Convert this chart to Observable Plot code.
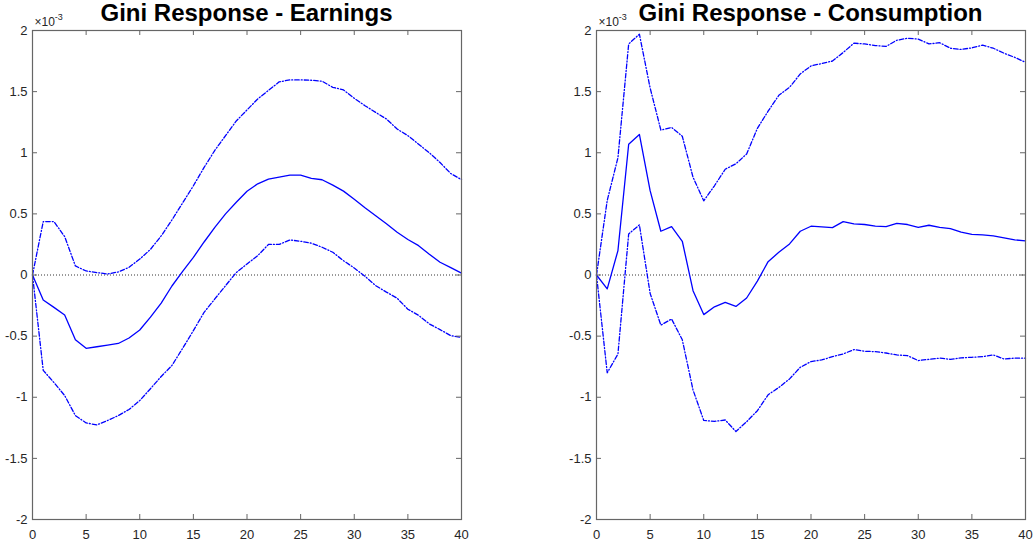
<!DOCTYPE html>
<html>
<head>
<meta charset="utf-8">
<script src="https://cdn.jsdelivr.net/npm/d3@7"></script>
<script src="https://cdn.jsdelivr.net/npm/@observablehq/plot@0.6"></script>
<style>
  body { margin: 0; background: #fff; font-family: "Liberation Sans", Arial, Helvetica, sans-serif; }
  #fig { position: relative; width: 1033px; height: 543px; overflow: hidden; }
  .panel { position: absolute; top: 0; height: 543px; }
  .title { position: absolute; top: 1px; font-weight: bold; font-size: 24px; line-height: 24px; color: #000; white-space: nowrap; transform: translateX(-50%); }
  .expo { position: absolute; top: 15.5px; font-size: 12px; line-height: 12px; color: #262626; white-space: nowrap; }
  .expo span { font-size: 9px; position: relative; top: -5.5px; }
  .chart { position: absolute; top: 0; left: 0; }
  .chart svg text { font-size: 13px !important; font-family: "Liberation Sans", Arial, Helvetica, sans-serif !important; }
</style>
</head>
<body>
<div id="fig"></div>
<script>
// Impulse horizons (quarters after the shock)
const horizons = [0, 1, 2, 3, 4, 5, 6, 7, 8, 9, 10, 11, 12, 13, 14, 15, 16, 17, 18, 19, 20,
  21, 22, 23, 24, 25, 26, 27, 28, 29, 30, 31, 32, 33, 34, 35, 36, 37, 38, 39, 40];

// Gini response of earnings (x 1e-3): point estimate and error bands
const earningsMid = [0, -0.204, -0.265, -0.327, -0.53, -0.60, -0.587, -0.574, -0.56, -0.515, -0.45,
  -0.345, -0.23, -0.09, 0.03, 0.144, 0.27, 0.39, 0.50, 0.595, 0.685,
  0.746, 0.784, 0.80, 0.817, 0.817, 0.79, 0.779, 0.735, 0.686, 0.62,
  0.55, 0.485, 0.42, 0.35, 0.29, 0.24, 0.17, 0.104, 0.06, 0.016];
const earningsUpper = [0, 0.437, 0.437, 0.314, 0.074, 0.033, 0.02, 0.008, 0.025, 0.063, 0.13,
  0.21, 0.32, 0.45, 0.59, 0.73, 0.88, 1.02, 1.14, 1.26, 1.35,
  1.44, 1.51, 1.58, 1.596, 1.596, 1.593, 1.585, 1.535, 1.514, 1.445,
  1.385, 1.33, 1.276, 1.194, 1.14, 1.07, 1.0, 0.92, 0.83, 0.78];
const earningsLower = [0, -0.78, -0.88, -0.986, -1.15, -1.21, -1.226, -1.19, -1.15, -1.10, -1.027,
  -0.93, -0.83, -0.74, -0.6, -0.455, -0.305, -0.196, -0.087, 0.02, 0.09,
  0.158, 0.25, 0.25, 0.287, 0.276, 0.26, 0.227, 0.186, 0.117, 0.057,
  -0.01, -0.087, -0.14, -0.19, -0.28, -0.33, -0.40, -0.447, -0.496, -0.51];

// Gini response of consumption (x 1e-3): point estimate and error bands
const consumptionMid = [0, -0.114, 0.2, 1.07, 1.15, 0.69, 0.358, 0.396, 0.276, -0.128, -0.324,
  -0.26, -0.224, -0.257, -0.188, -0.05, 0.109, 0.186, 0.254, 0.358, 0.399,
  0.393, 0.388, 0.437, 0.418, 0.413, 0.40, 0.396, 0.423, 0.413, 0.39,
  0.407, 0.39, 0.38, 0.35, 0.333, 0.328, 0.32, 0.303, 0.287, 0.279];
const consumptionUpper = [0, 0.61, 0.96, 1.89, 1.97, 1.53, 1.186, 1.207, 1.135, 0.80, 0.607,
  0.73, 0.865, 0.91, 0.99, 1.2, 1.34, 1.47, 1.535, 1.645, 1.71,
  1.73, 1.75, 1.82, 1.896, 1.89, 1.877, 1.87, 1.92, 1.937, 1.93,
  1.89, 1.90, 1.855, 1.845, 1.858, 1.88, 1.855, 1.814, 1.78, 1.74];
const consumptionLower = [0, -0.80, -0.646, 0.336, 0.41, -0.15, -0.41, -0.36, -0.53, -0.94, -1.19,
  -1.197, -1.186, -1.28, -1.20, -1.11, -0.98, -0.92, -0.85, -0.755, -0.708,
  -0.695, -0.668, -0.646, -0.61, -0.624, -0.627, -0.638, -0.654, -0.66, -0.70,
  -0.69, -0.68, -0.69, -0.678, -0.673, -0.668, -0.654, -0.687, -0.68, -0.68];

// Axis ticks
const xTicks = [0, 5, 10, 15, 20, 25, 30, 35, 40];
const yTicks = [-2, -1.5, -1, -0.5, 0, 0.5, 1, 1.5, 2];

const titles = ["Gini Response - Earnings", "Gini Response - Consumption"];

const H = 543, MT = 30, MB = 24, TICK = 5;
const LABEL = "#262626", BOX = "#666666", BLUE = "#0000ff";
const FONT = '"Liberation Sans", Arial, Helvetica, sans-serif';

function drawPanel({left, width, marginLeft, marginRight, title, mid, upper, lower}) {
  const rows = s => horizons.map((t, i) => ({t, v: s[i]}));
  const innerW = width - marginLeft - marginRight;
  const innerH = H - MT - MB;

  const chart = Plot.plot({
    width, height: H, marginLeft, marginRight, marginTop: MT, marginBottom: MB,
    style: {fontFamily: FONT, fontSize: "13px", color: LABEL, background: "transparent"},
    x: {domain: [0, 40]},
    y: {domain: [-2, 2]},
    marks: [
      Plot.ruleY([0], {stroke: "#000", strokeWidth: 0.8, strokeDasharray: "1,2"}),
      Plot.line(rows(upper), {x: "t", y: "v", stroke: BLUE, strokeWidth: 1.3, strokeDasharray: "4.5,2,1,2"}),
      Plot.line(rows(lower), {x: "t", y: "v", stroke: BLUE, strokeWidth: 1.3, strokeDasharray: "4.5,2,1,2"}),
      Plot.line(rows(mid), {x: "t", y: "v", stroke: BLUE, strokeWidth: 1.3}),
      // inward ticks on all four sides of the box
      Plot.tickY(yTicks, {y: d => d, insetRight: innerW - TICK, stroke: BOX}),
      Plot.tickY(yTicks, {y: d => d, insetLeft: innerW - TICK, stroke: BOX}),
      Plot.tickX(xTicks, {x: d => d, insetTop: innerH - TICK, stroke: BOX}),
      Plot.tickX(xTicks, {x: d => d, insetBottom: innerH - TICK, stroke: BOX}),
      Plot.frame({stroke: BOX, strokeWidth: 1.2}),
      Plot.axisX({ticks: xTicks, tickSize: 0, tickPadding: 10, tickFormat: d => String(d), label: null, fontSize: 13, fill: LABEL}),
      Plot.axisY({ticks: yTicks, tickSize: 0, tickPadding: 5, tickFormat: d => String(d), label: null, fontSize: 13, fill: LABEL})
    ]
  });

  const panel = document.createElement("div");
  panel.className = "panel";
  panel.style.left = left + "px";
  panel.style.width = width + "px";

  const c = document.createElement("div");
  c.className = "chart";
  c.appendChild(chart);

  const e = document.createElement("div");
  e.className = "expo";
  e.style.left = (marginLeft + 2.5) + "px";
  e.innerHTML = "\u00d710<span>-3</span>";

  const t = document.createElement("div");
  t.className = "title";
  t.style.left = (marginLeft + innerW / 2) + "px";
  t.textContent = title;

  panel.appendChild(c);
  panel.appendChild(e);
  panel.appendChild(t);
  document.getElementById("fig").appendChild(panel);
}

drawPanel({left: 0, width: 500, marginLeft: 32, marginRight: 39, title: titles[0],
  mid: earningsMid, upper: earningsUpper, lower: earningsLower});
drawPanel({left: 520, width: 513, marginLeft: 76, marginRight: 8, title: titles[1],
  mid: consumptionMid, upper: consumptionUpper, lower: consumptionLower});
</script>
</body>
</html>
